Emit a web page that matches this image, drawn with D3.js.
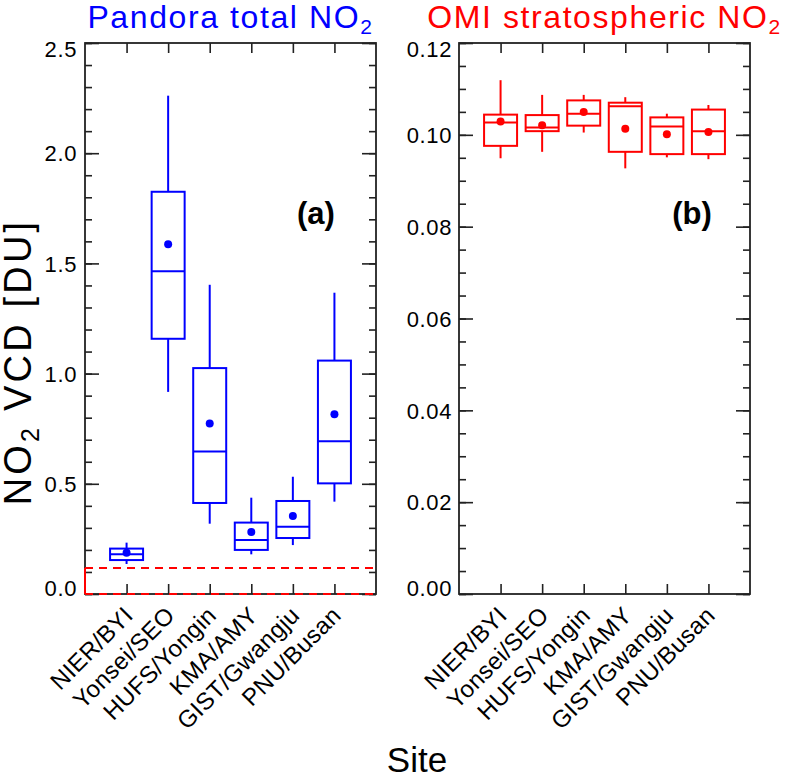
<!DOCTYPE html>
<html>
<head>
<meta charset="utf-8">
<script src="https://cdn.jsdelivr.net/npm/d3@7"></script>
<style>
  body { margin: 0; background: #fff; }
  svg text { font-family: "Liberation Sans", Arial, Helvetica, sans-serif; }
</style>
</head>
<body>
<svg id="chart" width="800" height="775"></svg>
<script>
// Sites on the x axis
const sites = ["NIER/BYI", "Yonsei/SEO", "HUFS/Yongin", "KMA/AMY", "GIST/Gwangju", "PNU/Busan"];

// Pandora total NO2 VCD [DU]
const pandoraLow    = [0.136, 0.917, 0.319, 0.180, 0.222, 0.419];
const pandoraQ1     = [0.154, 1.158, 0.413, 0.200, 0.254, 0.502];
const pandoraMedian = [0.180, 1.464, 0.646, 0.245, 0.305, 0.693];
const pandoraQ3     = [0.206, 1.825, 1.025, 0.324, 0.422, 1.059];
const pandoraHigh   = [0.233, 2.261, 1.403, 0.437, 0.532, 1.367];
const pandoraMean   = [0.187, 1.587, 0.774, 0.281, 0.354, 0.815];

// OMI stratospheric NO2 VCD [DU]
const omiLow    = [0.0949, 0.0963, 0.1005, 0.0927, 0.0951, 0.0947];
const omiQ1     = [0.0976, 0.1008, 0.1020, 0.0963, 0.0958, 0.0958];
const omiMedian = [0.1027, 0.1016, 0.1046, 0.1062, 0.1018, 0.1008];
const omiQ3     = [0.1044, 0.1043, 0.1075, 0.1070, 0.1038, 0.1055];
const omiHigh   = [0.1119, 0.1087, 0.1087, 0.1082, 0.1046, 0.1065];
const omiMean   = [0.1029, 0.1021, 0.1050, 0.1013, 0.1001, 0.1006];

// level of the OMI stratospheric column drawn in panel (a)
const stratLevel = 0.118;

const svg = d3.select("#chart");
const plotTop = 43, plotBottom = 594;

function drawPanel(opt) {
  const g = svg.append("g");
  const x = d3.scalePoint().domain(sites).range([opt.x0, opt.x1]).padding(1);
  const y = d3.scaleLinear().domain(opt.domain).range([plotBottom, plotTop]);
  const boxW = 33;

  const stats = sites.map((s, i) => ({
    site: s, low: opt.low[i], q1: opt.q1[i], med: opt.med[i],
    q3: opt.q3[i], high: opt.high[i], mean: opt.mean[i]
  }));

  // boxes
  const b = g.selectAll(".box").data(stats).join("g")
    .attr("fill", "none").attr("stroke", opt.color).attr("stroke-width", 2);
  b.append("line").attr("x1", d => x(d.site)).attr("x2", d => x(d.site))
    .attr("y1", d => y(d.q3)).attr("y2", d => y(d.high));
  b.append("line").attr("x1", d => x(d.site)).attr("x2", d => x(d.site))
    .attr("y1", d => y(d.q1)).attr("y2", d => y(d.low));
  b.append("rect").attr("x", d => x(d.site) - boxW / 2).attr("width", boxW)
    .attr("y", d => y(d.q3)).attr("height", d => y(d.q1) - y(d.q3));
  b.append("line").attr("x1", d => x(d.site) - boxW / 2).attr("x2", d => x(d.site) + boxW / 2)
    .attr("y1", d => y(d.med)).attr("y2", d => y(d.med));
  b.append("circle").attr("cx", d => x(d.site)).attr("cy", d => y(d.mean))
    .attr("r", 4).attr("fill", opt.color).attr("stroke", "none");

  // axes, ticks pointing inward on all four sides
  const minor = d3.range(opt.domain[0], opt.domain[1] + 1e-9, opt.minorStep);
  const major = d3.range(opt.domain[0], opt.domain[1] + 1e-9, opt.majorStep);

  const left = g.append("g").attr("transform", `translate(${opt.x0},0)`);
  left.call(d3.axisLeft(y).tickValues(minor).tickSizeInner(-7).tickSizeOuter(0).tickFormat(""));
  const leftMajor = g.append("g").attr("transform", `translate(${opt.x0},0)`)
    .call(d3.axisLeft(y).tickValues(major).tickSizeInner(-14).tickSizeOuter(0)
      .tickPadding(opt.pad).tickFormat(d3.format(opt.fmt)));
  leftMajor.selectAll("text").attr("font-size", 22).attr("fill", "#000")
    .style("letter-spacing", "0.6px")
    .attr("dy", d => d === major[major.length - 1] ? "0.6em" : d === major[0] ? "0.05em" : "0.35em");

  const right = g.append("g").attr("transform", `translate(${opt.x1},0)`);
  right.call(d3.axisRight(y).tickValues(minor).tickSizeInner(-7).tickSizeOuter(0).tickFormat(""));
  right.append("g").call(d3.axisRight(y).tickValues(major).tickSizeInner(-14).tickSizeOuter(0).tickFormat(""));

  g.append("g").attr("transform", `translate(0,${plotBottom})`)
    .call(d3.axisBottom(x).tickSizeInner(-10).tickSizeOuter(0).tickFormat(""));
  g.append("g").attr("transform", `translate(0,${plotTop})`)
    .call(d3.axisTop(x).tickSizeInner(-10).tickSizeOuter(0).tickFormat(""));

  g.selectAll(".domain").remove();
  g.selectAll(".tick line").attr("stroke", "#222").attr("stroke-width", 1.6);

  g.append("rect").attr("x", opt.x0).attr("y", plotTop)
    .attr("width", opt.x1 - opt.x0).attr("height", plotBottom - plotTop)
    .attr("fill", "none").attr("stroke", "#222").attr("stroke-width", 1.8);

  // rotated site labels
  g.selectAll(".site").data(sites).join("text")
    .attr("transform", d => `translate(${x(d) + 2},${plotBottom + 17}) rotate(-45)`)
    .attr("text-anchor", "end").attr("dy", "0.35em")
    .attr("font-size", 24).style("letter-spacing", "0.3px").text(d => d);

  // panel title with subscript
  const t = g.append("text").attr("x", (opt.x0 + opt.x1) / 2).attr("y", 28)
    .attr("text-anchor", "middle").attr("fill", opt.color)
    .attr("font-size", 32).style("letter-spacing", "1.6px");
  t.append("tspan").text(opt.title);
  t.append("tspan").attr("font-size", 21).attr("dy", 6).text("2");

  g.append("text").attr("x", opt.tagX).attr("y", 224).attr("text-anchor", "middle")
    .attr("font-size", 31).attr("font-weight", "bold").text(opt.tag);

  return { x, y, g };
}

const pa = drawPanel({
  x0: 85, x1: 376, domain: [0, 2.5], majorStep: 0.5, minorStep: 0.1, fmt: ".1f", pad: 8,
  color: "#0000ff", low: pandoraLow, q1: pandoraQ1, med: pandoraMedian, q3: pandoraQ3,
  high: pandoraHigh, mean: pandoraMean, title: "Pandora total NO", tag: "(a)", tagX: 316
});

// OMI stratospheric level marked in panel (a)
pa.g.append("line").attr("x1", 85).attr("x2", 376)
  .attr("y1", pa.y(stratLevel)).attr("y2", pa.y(stratLevel))
  .attr("stroke", "#ff0000").attr("stroke-width", 2).attr("stroke-dasharray", "8,6");
pa.g.append("line").attr("x1", 85).attr("x2", 376)
  .attr("y1", pa.y(0)).attr("y2", pa.y(0))
  .attr("stroke", "#ff0000").attr("stroke-width", 2).attr("stroke-dasharray", "8,6");
pa.g.append("line").attr("x1", 85).attr("x2", 85)
  .attr("y1", pa.y(0)).attr("y2", pa.y(stratLevel))
  .attr("stroke", "#ff0000").attr("stroke-width", 2);

drawPanel({
  x0: 459, x1: 750, domain: [0, 0.12], majorStep: 0.02, minorStep: 0.005, fmt: ".2f", pad: 7,
  color: "#ff0000", low: omiLow, q1: omiQ1, med: omiMedian, q3: omiQ3,
  high: omiHigh, mean: omiMean, title: "OMI stratospheric NO", tag: "(b)", tagX: 692
});

// y axis title
const yt = svg.append("text").attr("transform", "translate(31,362) rotate(-90)")
  .attr("text-anchor", "middle").attr("font-size", 38).style("letter-spacing", "3.2px");
yt.append("tspan").text("NO");
yt.append("tspan").attr("font-size", 25).attr("dy", 8).text("2");
yt.append("tspan").attr("dy", -8).text(" VCD [DU]");

// x axis title
svg.append("text").attr("x", 417).attr("y", 772).attr("text-anchor", "middle")
  .attr("font-size", 35).text("Site");
</script>
</body>
</html>
